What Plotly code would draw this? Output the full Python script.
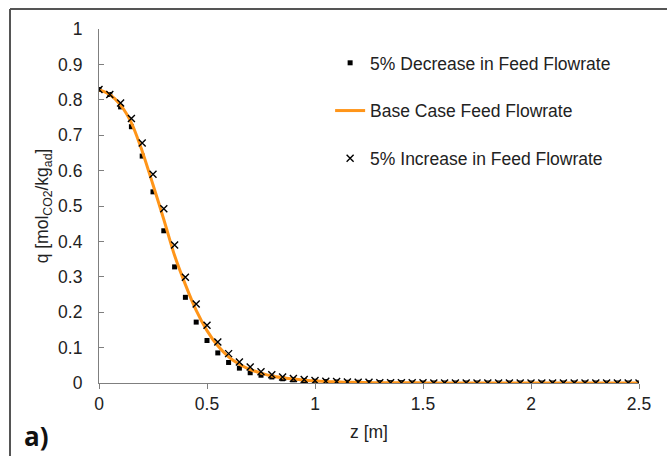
import plotly.graph_objects as go

z = [0.00, 0.05, 0.10, 0.15, 0.20, 0.25, 0.30, 0.35, 0.40, 0.45,
     0.50, 0.55, 0.60, 0.65, 0.70, 0.75, 0.80, 0.85, 0.90, 0.95,
     1.00, 1.05, 1.10, 1.15, 1.20, 1.25, 1.30, 1.35, 1.40, 1.45,
     1.50, 1.55, 1.60, 1.65, 1.70, 1.75, 1.80, 1.85, 1.90, 1.95,
     2.00, 2.05, 2.10, 2.15, 2.20, 2.25, 2.30, 2.35, 2.40, 2.45, 2.50]

q_decrease = [0.829, 0.815, 0.780, 0.724, 0.641, 0.540, 0.430, 0.328, 0.242, 0.172,
              0.120, 0.085, 0.058, 0.042, 0.029, 0.022, 0.017, 0.012, 0.009, 0.007,
              0.005, 0.004, 0.003, 0.002, 0.002, 0.001, 0.001, 0.001, 0.001, 0.000,
              0.000, 0.000, 0.000, 0.000, 0.000, 0.000, 0.000, 0.000, 0.000, 0.000,
              0.000, 0.000, 0.000, 0.000, 0.000, 0.000, 0.000, 0.000, 0.000, 0.000, 0.000]

q_base = [0.829, 0.815, 0.785, 0.735, 0.655, 0.560, 0.462, 0.360, 0.278, 0.205,
          0.148, 0.105, 0.074, 0.053, 0.038, 0.028, 0.020, 0.015, 0.011, 0.008,
          0.006, 0.004, 0.003, 0.002, 0.002, 0.001, 0.001, 0.001, 0.001, 0.001,
          0.000, 0.000, 0.000, 0.000, 0.000, 0.000, 0.000, 0.000, 0.000, 0.000,
          0.000, 0.000, 0.000, 0.000, 0.000, 0.000, 0.000, 0.000, 0.000, 0.000, 0.000]

q_increase = [0.829, 0.815, 0.791, 0.747, 0.678, 0.590, 0.492, 0.390, 0.299, 0.223,
              0.163, 0.116, 0.083, 0.059, 0.045, 0.032, 0.023, 0.017, 0.013, 0.010,
              0.007, 0.005, 0.004, 0.003, 0.002, 0.002, 0.001, 0.001, 0.001, 0.001,
              0.001, 0.000, 0.000, 0.000, 0.000, 0.000, 0.000, 0.000, 0.000, 0.000,
              0.000, 0.000, 0.000, 0.000, 0.000, 0.000, 0.000, 0.000, 0.000, 0.000, 0.000]

x_ticks = [0, 0.5, 1, 1.5, 2, 2.5]
x_tick_labels = ["0", "0.5", "1", "1.5", "2", "2.5"]
y_ticks = [0, 0.1, 0.2, 0.3, 0.4, 0.5, 0.6, 0.7, 0.8, 0.9, 1]
y_tick_labels = ["0", "0.1", "0.2", "0.3", "0.4", "0.5", "0.6", "0.7", "0.8", "0.9", "1"]

FONT = "Liberation Sans, Arial, sans-serif"
FS = 17.5
ORANGE = "#FF9519"

fig = go.Figure()
fig.add_trace(go.Scatter(
    x=z, y=q_decrease, mode="markers", name="5% Decrease in Feed Flowrate",
    legendgroup="a",
    marker=dict(symbol="square", size=5, color="black"),
))
fig.add_trace(go.Scatter(
    x=z, y=q_base, mode="lines", name="Base Case Feed Flowrate",
    legendgroup="b",
    line=dict(color=ORANGE, width=3, shape="spline", smoothing=0.8),
))
fig.add_trace(go.Scatter(
    x=z, y=q_increase, mode="markers", name="5% Increase in Feed Flowrate",
    legendgroup="c",
    marker=dict(symbol="x-thin", size=7, color="black",
                line=dict(width=1.4, color="black")),
))

fig.update_layout(
    width=667, height=456,
    margin=dict(l=99, r=28, t=29, b=73),
    paper_bgcolor="white", plot_bgcolor="white",
    font=dict(family=FONT, size=FS, color="#222222"),
    showlegend=True,
    legend=dict(
        x=0.428, y=0.955, xanchor="left", yanchor="top",
        bgcolor="rgba(0,0,0,0)", borderwidth=0,
        tracegroupgap=22,
        font=dict(family=FONT, size=FS, color="#222222"),
    ),
    xaxis=dict(
        range=[0, 2.5], tickvals=x_ticks, ticktext=x_tick_labels,
        showgrid=False, zeroline=False,
        showline=True, linecolor="#7f7f7f", linewidth=1.2,
        ticks="outside", ticklen=5, tickcolor="#7f7f7f",
        title=dict(text="z [m]", standoff=12, font=dict(size=FS)),
    ),
    yaxis=dict(
        range=[0, 1], tickvals=y_ticks, ticktext=y_tick_labels,
        showgrid=False, zeroline=False,
        showline=True, linecolor="#7f7f7f", linewidth=1.2,
        ticks="inside", ticklen=5, tickcolor="#7f7f7f",
        ticklabelstandoff=12,
        title=dict(text="q [mol<sub>CO2</sub>/kg<sub>ad</sub>]", standoff=4,
                   font=dict(size=FS)),
    ),
    shapes=[
        dict(type="line", xref="paper", yref="paper",
             x0=(10 - 99) / 540, x1=(667 - 99) / 540,
             y0=(456 - 73 - 9) / 354, y1=(456 - 73 - 9) / 354,
             line=dict(color="#555555", width=2)),
        dict(type="line", xref="paper", yref="paper",
             x0=(10 - 99) / 540, x1=(10 - 99) / 540,
             y0=(456 - 73 - 9) / 354, y1=-73 / 354,
             line=dict(color="#555555", width=2)),
    ],
    annotations=[
        dict(text="<b>a)</b>", xref="paper", yref="paper",
             x=(22 - 99) / 540, y=(383 - 436) / 354,
             xanchor="left", yanchor="middle", showarrow=False,
             font=dict(family="Open Sans, sans-serif", size=26, color="#111111")),
    ],
)

fig.write_html("out.html")
